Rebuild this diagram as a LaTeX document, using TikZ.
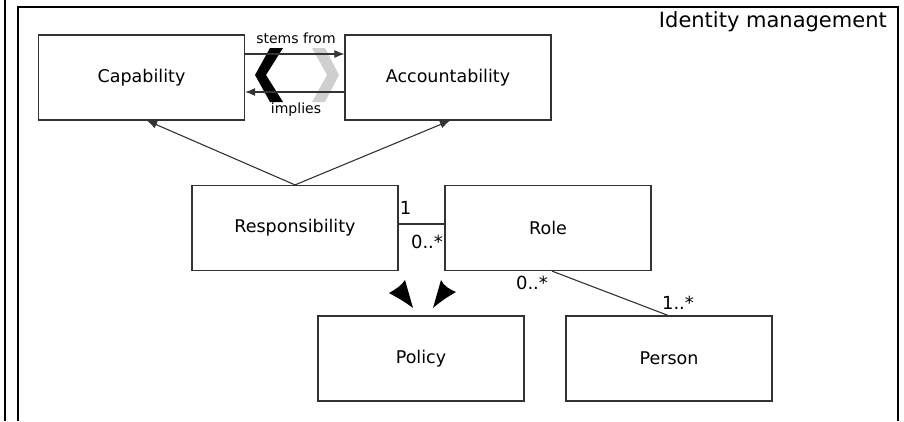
\documentclass[tikz,border=0pt]{standalone}
\usepackage{fontspec}
\setmainfont{DejaVu Sans}
\usetikzlibrary{arrows.meta}
\definecolor{boxline}{HTML}{333333}
\definecolor{chevgray}{HTML}{CFCFCF}
\begin{document}
\begin{tikzpicture}[x=1pt,y=-1pt,
  box/.style={draw=boxline,line width=1.2pt,minimum width=206pt,minimum height=85pt,inner sep=0pt,font=\fontsize{17.5}{20}\selectfont,text=black},
  conn/.style={draw=boxline,line width=1.1pt},
  arr/.style={conn,-{Latex[length=10pt,width=8pt]}},
  mult/.style={font=\fontsize{18}{20}\selectfont,inner sep=0pt,text=black},
  small/.style={font=\fontsize{14}{16}\selectfont,inner sep=0pt,text=black}]
\useasboundingbox (0,0) rectangle (904,421);
% outer frame
\draw[line width=2pt] (5,0) -- (5,421);
\draw[line width=2pt] (18,421) -- (18,7) -- (898,7) -- (898,421);
\node[anchor=east,inner sep=0pt,font=\fontsize{21}{24}\selectfont] (title) at (887,22) {Identity management};
% boxes
\node[box] (cap) at (141.5,77.5) {Capability};
\node[box] (acc) at (448,77.5) {Accountability};
\node[box] (resp) at (295,228) {Responsibility};
\node[box] (role) at (548,228) {Role};
\node[box] (pol) at (421,358.5) {Policy};
\node[box] (pers) at (669,358.5) {Person};
% chevrons
\fill[black] (270,48) -- (283,48) -- (266,75) -- (283,102) -- (270,102) -- (255,75) -- cycle;
\fill[chevgray] (312,48) -- (325,48) -- (339,75) -- (325,102) -- (312,102) -- (327,75) -- cycle;
% stems from / implies
\draw[arr] ([yshift=23.5pt]cap.east) -- ([yshift=23.5pt]acc.west);
\draw[arr] ([yshift=-14.5pt]acc.west) -- ([yshift=-14.5pt]cap.east);
\node[small] (stems) at (296,38) {stems from};
\node[small] (impl) at (296,110) {implies};
% responsibility arrows
\draw[arr] (resp.north) -- ([xshift=5.5pt]cap.south);
\draw[arr] (resp.north) -- ([xshift=2pt]acc.south);
% resp - role
\draw[conn] ([yshift=4pt]resp.east) -- ([yshift=4pt]role.west);
\node[mult] (m1) at (405.5,208) {1};
\node[mult] (m2) at (427,242) {0..*};
% role - person
\draw[conn] ([xshift=4pt]role.south) -- ([xshift=-1pt]pers.north);
\node[mult] (m3) at (532,283) {0..*};
\node[mult] (m4) at (678,303) {1..*};
% loose arrowheads
\fill[black] (389,293) .. controls (396,289) and (401,286) .. (405,280) -- (413,308) .. controls (404,301) and (396,297) .. cycle;
\fill[black] (456,292) .. controls (449,289) and (444,286) .. (441,280) -- (433,308) .. controls (441,301) and (449,296) .. cycle;
\end{tikzpicture}
\end{document}
